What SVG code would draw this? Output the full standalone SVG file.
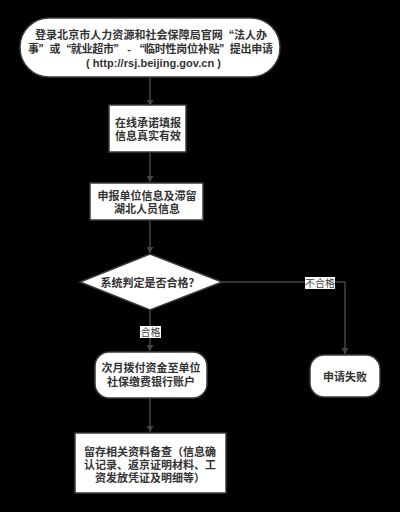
<svg xmlns="http://www.w3.org/2000/svg" width="400" height="512" viewBox="0 0 400 512">
<defs>
<style>
.bg{fill:#000}
.n{fill:#fff;stroke:#3a3a3a;stroke-width:1.5}
.t{font-family:"Liberation Sans","Noto Sans CJK SC",sans-serif;font-size:11px;font-weight:600;fill:#333;text-anchor:middle;dominant-baseline:central}
.q{font-family:"Noto Sans CJK SC",sans-serif}
.e{fill:none;stroke:#444;stroke-width:1.5}
.lb{fill:#fff}
.lt{font-family:"Liberation Sans","Noto Sans CJK SC",sans-serif;font-size:10px;fill:#444;text-anchor:middle;dominant-baseline:central}
</style>
<marker id="ah" viewBox="0 0 10 10" refX="10" refY="5" markerWidth="6" markerHeight="7" markerUnits="userSpaceOnUse" orient="auto" preserveAspectRatio="none">
<path d="M0,0 L10,5 L0,10 Z" fill="#444"/>
</marker>
</defs>
<rect class="bg" x="0" y="0" width="400" height="512"/>
<g id="connectors">
<path class="e" d="M150,77 V106" marker-end="url(#ah)"/>
<path class="e" d="M150,152 V182" marker-end="url(#ah)"/>
<path class="e" d="M150,220 V253" marker-end="url(#ah)"/>
<path class="e" d="M150,310 V351" marker-end="url(#ah)"/>
<path class="e" d="M222,282 H345 V354" marker-end="url(#ah)"/>
<path class="e" d="M150,398 V432" marker-end="url(#ah)"/>
<g id="label-pass">
<rect class="lb" x="140" y="326" width="21" height="12"/>
<text class="lt" x="150.5" y="332">合格</text>
</g>
<g id="label-fail">
<rect class="lb" x="305" y="277" width="30" height="12"/>
<text class="lt" x="320" y="283">不合格</text>
</g>
</g>
<g id="start">
<rect class="n" x="20" y="18" width="260" height="59" rx="29" ry="29"/>
<text class="t" x="151" y="35" textLength="232" lengthAdjust="spacing">登录北京市人力资源和社会保障局官网<tspan class="q">“</tspan>法人办</text>
<text class="t" x="150.5" y="49" textLength="245" lengthAdjust="spacing">事<tspan class="q">”</tspan>或<tspan class="q">“</tspan>就业超市<tspan class="q">”</tspan> - <tspan class="q">“</tspan>临时性岗位补贴<tspan class="q">”</tspan>提出申请</text>
<text class="t" x="153.5" y="63" textLength="135" lengthAdjust="spacing">( http://rsj.beijing.gov.cn )</text>
</g>
<g id="commit">
<rect class="n" x="109" y="105" width="77" height="47"/>
<text class="t" x="148" y="123">在线承诺填报</text>
<text class="t" x="148" y="136">信息真实有效</text>
</g>
<g id="declare">
<rect class="n" x="90" y="183" width="113" height="37"/>
<text class="t" x="147" y="196">申报单位信息及滞留</text>
<text class="t" x="147" y="209">湖北人员信息</text>
</g>
<g id="decision">
<polygon class="n" points="150,254 222,282 150,310 80,282"/>
<text class="t" x="150" y="283">系统判定是否合格？</text>
</g>
<g id="pay">
<rect class="n" x="95" y="352" width="112" height="46" rx="14" ry="14"/>
<text class="t" x="151" y="368">次月拨付资金至单位</text>
<text class="t" x="151" y="382">社保缴费银行账户</text>
</g>
<g id="fail">
<rect class="n" x="310" y="355" width="70" height="42" rx="14" ry="14"/>
<text class="t" x="345" y="377">申请失败</text>
</g>
<g id="archive">
<rect class="n" x="75" y="433" width="151" height="60"/>
<text class="t" x="150" y="452">留存相关资料备查（信息确</text>
<text class="t" x="150" y="465">认记录、返京证明材料、工</text>
<text class="t" x="150" y="478">资发放凭证及明细等）</text>
</g>
</svg>
